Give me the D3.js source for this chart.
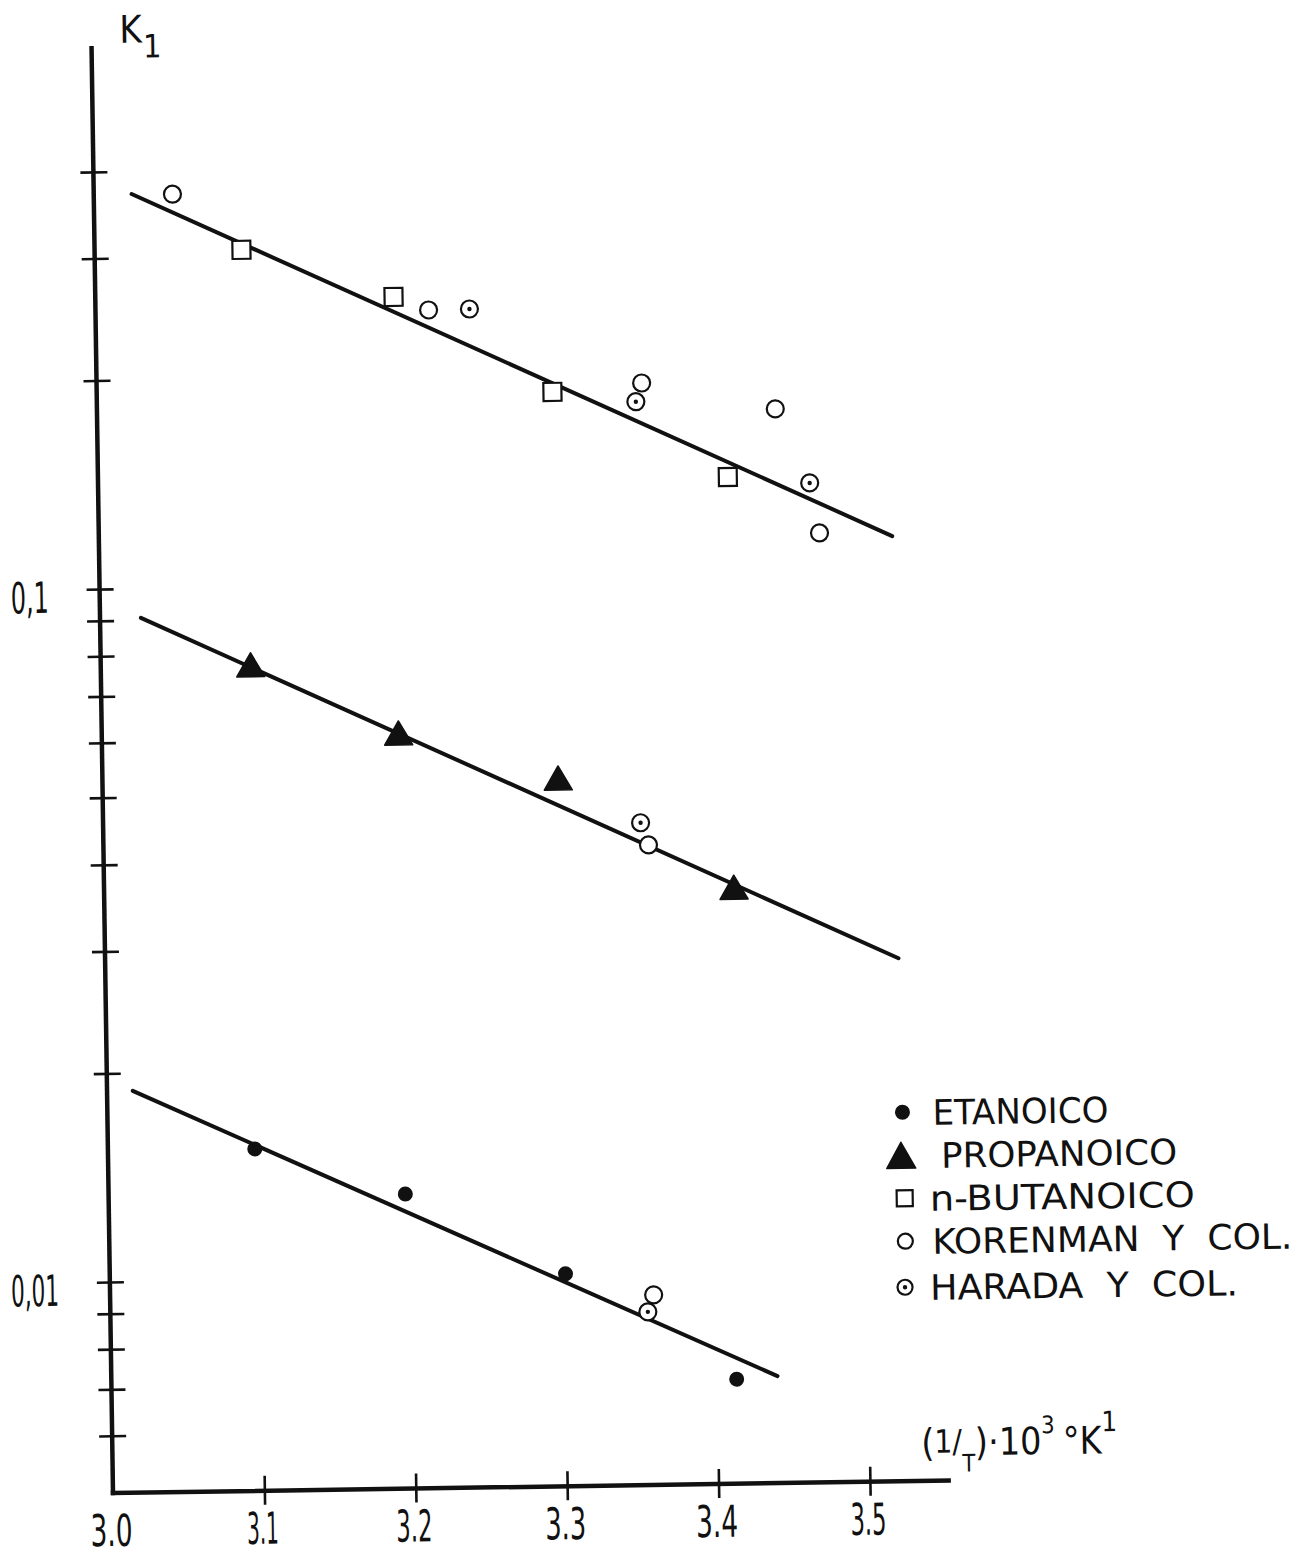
<!DOCTYPE html>
<html><head><meta charset="utf-8">
<script src="https://cdn.jsdelivr.net/npm/d3@7/dist/d3.min.js"></script>
<style>
html,body{margin:0;padding:0;background:#fff;}
svg{display:block;}
text{font-family:"Liberation Sans Narrow","DejaVu Sans Condensed","Liberation Sans",sans-serif;fill:#111;}
</style>
</head><body>
<svg id="chart" width="1300" height="1557"></svg>
<script>
// ---- data ----
const xTicks = [3.0, 3.1, 3.2, 3.3, 3.4, 3.5];
const xTickLabels = ["3.0", "3.1", "3.2", "3.3", "3.4", "3.5"];
const yTicks = [0.4, 0.3, 0.2, 0.1, 0.09, 0.08, 0.07, 0.06, 0.05, 0.04, 0.03, 0.02, 0.01, 0.009, 0.008, 0.007, 0.006];
const yLabelValues = [0.1, 0.01];
const yLabelTexts = ["0,1", "0,01"];

const etanoico   = [[3.097, 0.01545], [3.196, 0.0132], [3.301, 0.01005], [3.413, 0.00702]];
const propanoico = [[3.099, 0.0772], [3.196, 0.0611], [3.301, 0.0522], [3.416, 0.0360]];
const butanoico  = [[3.097, 0.3065], [3.197, 0.2602], [3.301, 0.1883], [3.416, 0.1407]];
const korenman   = [[3.052, 0.370], [3.220, 0.2487], [3.360, 0.1931], [3.448, 0.176], [3.476, 0.1163], [3.360, 0.0416], [3.359, 0.00933]];
const harada     = [[3.247, 0.249], [3.356, 0.1815], [3.470, 0.1374], [3.355, 0.0448], [3.355, 0.00882]];

const fitButanoico  = [[3.025, 0.371], [3.524, 0.1147]];
const fitPropanoico = [[3.027, 0.0907], [3.524, 0.0282]];
const fitEtanoico   = [[3.017, 0.01885], [3.440, 0.00708]];

const legendLabels = ["ETANOICO", "PROPANOICO", "n-BUTANOICO", "KORENMAN\u00a0\u00a0Y\u00a0\u00a0COL.", "HARADA\u00a0\u00a0Y\u00a0\u00a0COL."];
const legendKinds = ["dot", "tri", "sq", "circ", "harada"];

// ---- drawing ----
const svg = d3.select("#chart");
svg.append("rect").attr("width", 1300).attr("height", 1557).attr("fill", "#fff");
const g = svg.append("g").attr("transform", "rotate(-0.85,113,1493)");

const x = d3.scaleLinear().domain([3.0, 3.5]).range([113, 870]);
const y = d3.scaleLog().domain([0.01, 0.1]).range([1282, 589]);
const INK = "#111";

// Y axis ticks
const ya = g.append("g").attr("transform", "translate(113,0)")
  .call(d3.axisLeft(y).tickValues(yTicks).tickFormat("").tickSizeOuter(0));
ya.select(".domain").remove();
ya.selectAll(".tick line").attr("x1", -13).attr("x2", 14).attr("stroke", INK).attr("stroke-width", 2.6);

// X axis ticks
const xa = g.append("g").attr("transform", "translate(0,1493)")
  .call(d3.axisBottom(x).tickValues(xTicks.slice(1)).tickFormat("").tickSizeOuter(0));
xa.select(".domain").remove();
xa.selectAll(".tick line").attr("y1", -15).attr("y2", 14).attr("stroke", INK).attr("stroke-width", 2.6);

// axis lines
g.append("line").attr("x1", 113).attr("x2", 113).attr("y1", 48).attr("y2", 1493)
  .attr("stroke", INK).attr("stroke-width", 4.5).attr("stroke-linecap", "square");
g.append("line").attr("x1", 113).attr("x2", x(3.552)).attr("y1", 1493).attr("y2", 1493)
  .attr("stroke", INK).attr("stroke-width", 4.5).attr("stroke-linecap", "square");

// tick labels
const xLabelW = [42, 32, 36, 41, 42, 36];
g.selectAll(".xl").data(xTicks).join("text").attr("class", "xl")
  .attr("x", (d, i) => x(d) - 2 - xLabelW[i] / 2).attr("y", 1546)
  .attr("font-size", 44)
  .attr("textLength", (d, i) => xLabelW[i]).attr("lengthAdjust", "spacingAndGlyphs")
  .text((d, i) => xTickLabels[i]);
const yLabelW = [38, 48];
g.selectAll(".yl").data(yLabelValues).join("text").attr("class", "yl")
  .attr("x", (d, i) => 62 - yLabelW[i]).attr("y", d => y(d) + 23)
  .attr("font-size", 43)
  .attr("textLength", (d, i) => yLabelW[i]).attr("lengthAdjust", "spacingAndGlyphs")
  .text((d, i) => yLabelTexts[i]);

// axis titles
const kt = g.append("text").attr("x", 141).attr("y", 43).attr("font-size", 38);
kt.append("tspan").text("K");
kt.append("tspan").attr("dx", 1).attr("dy", 15).attr("font-size", 32).text("1");

const xt = g.append("text").attr("x", 922).attr("y", 1468).attr("font-size", 38)
  .attr("textLength", 196).attr("lengthAdjust", "spacingAndGlyphs");
xt.append("tspan").text("(");
xt.append("tspan").attr("font-size", 32).attr("dy", -3).text("1/");
xt.append("tspan").attr("font-size", 24).attr("dy", 19).text("T");
xt.append("tspan").attr("font-size", 38).attr("dy", -16).text(")\u00b710");
xt.append("tspan").attr("font-size", 24).attr("dy", -21).text("3");
xt.append("tspan").attr("font-size", 38).attr("dx", 8).attr("dy", 21).text("\u00b0K");
xt.append("tspan").attr("font-size", 28).attr("dy", -22).text("1");

// fit lines
const line = d3.line().x(d => x(d[0])).y(d => y(d[1]));
[fitButanoico, fitPropanoico, fitEtanoico].forEach(f => {
  g.append("path").attr("d", line(f)).attr("fill", "none").attr("stroke", INK)
    .attr("stroke-width", 4).attr("stroke-linecap", "round");
});

// marker painters
function tri(sel, cx, cy, w, h) {
  sel.append("path")
    .attr("d", `M${cx},${cy - h / 2}L${cx + w / 2},${cy + h / 2}L${cx - w / 2},${cy + h / 2}Z`)
    .attr("fill", INK).attr("stroke", INK).attr("stroke-width", 1.5).attr("stroke-linejoin", "round");
}
function marker(sel, kind, cx, cy, legend) {
  if (kind === "dot") {
    sel.append("circle").attr("cx", cx).attr("cy", cy).attr("r", 7.5).attr("fill", INK);
  } else if (kind === "tri") {
    tri(sel, cx, cy, legend ? 29 : 28, legend ? 26 : 24);
  } else if (kind === "sq") {
    const s = legend ? 16 : 18;
    sel.append("rect").attr("x", cx - s / 2).attr("y", cy - s / 2).attr("width", s).attr("height", s)
      .attr("fill", "#fff").attr("stroke", INK).attr("stroke-width", 2.2);
  } else if (kind === "circ") {
    sel.append("circle").attr("cx", cx).attr("cy", cy).attr("r", legend ? 7.5 : 8.5)
      .attr("fill", "#fff").attr("stroke", INK).attr("stroke-width", 2.2);
  } else if (kind === "harada") {
    sel.append("circle").attr("cx", cx).attr("cy", cy).attr("r", legend ? 7.5 : 8.5)
      .attr("fill", "#fff").attr("stroke", INK).attr("stroke-width", 2.2);
    sel.append("circle").attr("cx", cx).attr("cy", cy).attr("r", 2.2).attr("fill", INK);
  }
}

const series = [
  {data: butanoico, kind: "sq"},
  {data: korenman, kind: "circ"},
  {data: harada, kind: "harada"},
  {data: propanoico, kind: "tri"},
  {data: etanoico, kind: "dot"}
];
series.forEach(s => {
  const sg = g.append("g");
  s.data.forEach(d => marker(sg, s.kind, x(d[0]), y(d[1]), false));
});

// legend
const lgX = [908, 906, 909, 909, 908];
const lgY = [1124, 1167, 1210, 1253, 1299];
const lgTX = [938, 946, 934, 936, 933];
const lgW = [176, 236, 265, 360, 308];
const lg = g.append("g");
legendKinds.forEach((k, i) => {
  marker(lg, k, lgX[i], lgY[i], true);
  lg.append("text").attr("x", lgTX[i]).attr("y", lgY[i] + 13).attr("font-size", 35)
    .attr("textLength", lgW[i]).attr("lengthAdjust", "spacingAndGlyphs")
    .text(legendLabels[i]);
});
</script>
</body></html>
